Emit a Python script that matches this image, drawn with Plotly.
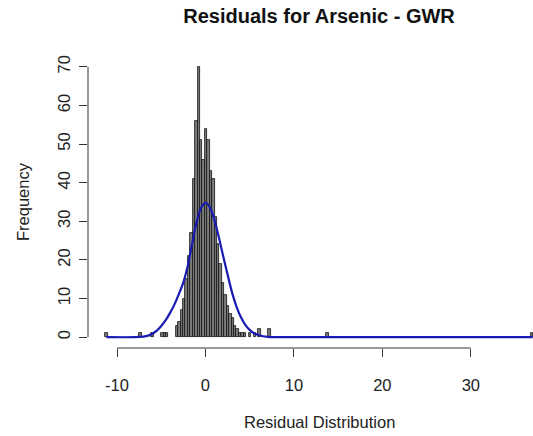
import plotly.graph_objects as go

# ---- data ----
bin_width = 0.275
bin_centers = [-11.205, -7.355, -5.98, -4.88, -4.605, -4.33,
               -3.23, -2.955, -2.68, -2.405, -2.13, -1.855, -1.58, -1.305, -1.03, -0.755,
               -0.48, -0.205, 0.07, 0.345, 0.62, 0.895, 1.17, 1.445, 1.72, 1.995,
               2.27, 2.545, 2.82, 3.095, 3.37, 3.645, 3.92, 4.195, 4.47, 5.02, 5.57,
               6.12, 7.22, 13.82, 36.92]
frequency = [1, 1, 1, 1, 1, 1,
             3, 4, 7, 10, 15, 21, 27, 41, 56, 70,
             51, 46, 54, 51, 43, 41, 31, 24, 19, 14,
             11, 8, 6, 5, 3, 2, 1, 1, 1, 1, 1,
             2, 2, 1, 1]

curve_x = [-11.2, -8, -7, -6.5, -6, -5.5, -5, -4.5, -4, -3.5, -3, -2.5, -2, -1.5, -1, -0.5,
           0, 0.5, 1, 1.5, 2, 2.5, 3, 3.5, 4, 4.5, 5, 5.5, 6, 6.5, 7, 8, 37.0]
curve_y = [0.0, 0.0, 0.15, 0.4, 0.9, 1.7, 2.9, 4.4, 6.3, 8.5, 11.2, 14.2, 18.5, 24.3, 29.8, 33.5,
           34.8, 33.6, 30.5, 26.0, 21.0, 16.2, 11.6, 8.0, 5.2, 3.2, 1.9, 1.0, 0.55, 0.25, 0.1, 0.0, 0.0]

x_ticks = [-10, 0, 10, 20, 30]
y_ticks = [0, 10, 20, 30, 40, 50, 60, 70]

title_text = "Residuals for Arsenic - GWR"
x_title = "Residual Distribution"
y_title = "Frequency"

FONT = "Arial, Liberation Sans, sans-serif"
W, H = 533, 436
ML, MT, MB = 88, 56, 88
CX = (319 - ML) / (W - ML)  # horizontal centre of R's (cropped) plot region, in paper units

fig = go.Figure()
fig.add_trace(go.Bar(
    x=bin_centers, y=frequency, width=bin_width,
    marker=dict(color="#7d7d7d", line=dict(color="#111111", width=0.8)),
    hoverinfo="skip", showlegend=False))
fig.add_trace(go.Scatter(
    x=curve_x, y=curve_y, mode="lines",
    line=dict(color="#1a1ab4", width=2.2, shape="spline", smoothing=0.6),
    hoverinfo="skip", showlegend=False))

# R-style axis lines spanning only the tick range
fig.add_shape(type="line", xref="x", yref="paper", x0=x_ticks[0], x1=x_ticks[-1], y0=0, y1=0,
              line=dict(color="#333333", width=1))
fig.add_shape(type="line", xref="paper", yref="y", x0=0, x1=0, y0=y_ticks[0], y1=y_ticks[-1],
              line=dict(color="#333333", width=1))

fig.update_layout(
    width=W, height=H,
    margin=dict(l=ML, r=0, t=MT, b=MB, pad=0),
    paper_bgcolor="white", plot_bgcolor="white",
    font=dict(family=FONT, size=16.5, color="#222222"),
    title=dict(text="<b>" + title_text + "</b>", font=dict(family=FONT, size=20, color="#111111"),
               xref="container", yref="container", x=319 / W, xanchor="center",
               y=1 - 16 / H, yanchor="middle"),
    xaxis=dict(range=[-13.28, 37.03], tickvals=x_ticks, ticktext=[str(v) for v in x_ticks],
               ticks="outside", ticklen=8, tickcolor="#333333", showgrid=False, zeroline=False,
               showline=False, ticklabelstandoff=14),
    yaxis=dict(range=[-2.8, 72.8], tickvals=y_ticks, ticktext=[str(v) for v in y_ticks],
               ticks="outside", ticklen=8, tickcolor="#333333", showgrid=False, zeroline=False,
               showline=False, tickangle=-90, ticklabelstandoff=2),
    bargap=0,
    annotations=[
        dict(text=x_title, xref="paper", yref="paper", x=CX, y=0, yshift=-74,
             xanchor="center", yanchor="middle", showarrow=False,
             font=dict(family=FONT, size=16.5, color="#222222")),
        dict(text=y_title, xref="paper", yref="paper", x=0, xshift=-65, y=0.5,
             xanchor="center", yanchor="middle", textangle=-90, showarrow=False,
             font=dict(family=FONT, size=16.5, color="#222222")),
    ],
)

fig.write_html("out.html", config={"displayModeBar": False})
